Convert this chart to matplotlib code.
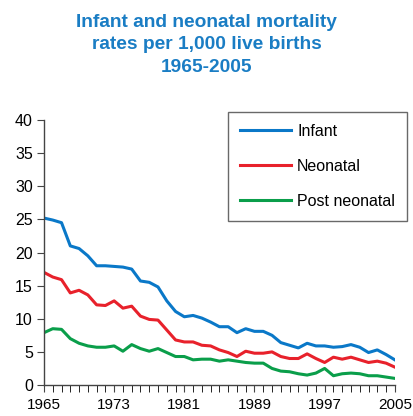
import matplotlib
matplotlib.use("Agg")
from matplotlib import pyplot as plt
import numpy as np

plt.rcParams['font.family'] = ['Liberation Sans', 'DejaVu Sans']

years = list(range(1965, 2006))
infant = [25.2, 24.9, 24.5, 21.0, 20.6, 19.5, 18.0, 18.0, 17.9, 17.8,
          17.5, 15.7, 15.5, 14.8, 12.7, 11.1, 10.3, 10.5, 10.1, 9.5,
          8.8, 8.8, 7.9, 8.5, 8.1, 8.1, 7.5, 6.4, 6.0, 5.6,
          6.3, 5.9, 5.9, 5.7, 5.8, 6.1, 5.7, 4.9, 5.3, 4.6, 3.8]
neonatal = [17.0, 16.3, 15.9, 13.9, 14.3, 13.6, 12.1, 12.0, 12.7, 11.6,
            11.9, 10.4, 9.9, 9.8, 8.3, 6.8, 6.5, 6.5, 6.0, 5.9,
            5.3, 4.9, 4.3, 5.1, 4.8, 4.8, 5.0, 4.3, 4.0, 4.0,
            4.7, 4.0, 3.4, 4.2, 3.9, 4.2, 3.8, 3.4, 3.6, 3.3, 2.7]
post_neonatal = [7.9, 8.5, 8.4, 7.0, 6.3, 5.9, 5.7, 5.7, 5.9, 5.1,
                 6.1, 5.5, 5.1, 5.5, 4.9, 4.3, 4.3, 3.8, 3.9, 3.9,
                 3.6, 3.8, 3.6, 3.4, 3.3, 3.3, 2.5, 2.1, 2.0, 1.7,
                 1.5, 1.8, 2.5, 1.4, 1.7, 1.8, 1.7, 1.4, 1.4, 1.2, 1.0]
labels = ['Infant', 'Neonatal', 'Post neonatal']
colors = ['#0a78c8', '#e8212b', '#0a9e4a']

fig = plt.figure(figsize=(4.13, 4.16), dpi=100)
ax = fig.add_axes([0.1065, 0.0745, 0.8495, 0.637])

for vals, lab, c in zip([infant, neonatal, post_neonatal], labels, colors):
    ax.plot(years, vals, color=c, lw=2.2, label=lab)

ax.set_xlim(1965, 2005)
ax.set_ylim(0, 40)
ax.set_yticks(np.arange(0, 41, 5))
ax.set_xticks(range(1965, 2006, 8))
ax.set_xticks(range(1965, 2006), minor=True)
ax.tick_params(axis='both', labelsize=11.5, color='#444444', direction='out')
ax.tick_params(axis='x', which='both', length=5, pad=4, labelsize=11)
ax.tick_params(axis='y', length=5, pad=3)
for s in ['top', 'right']:
    ax.spines[s].set_visible(False)
for s in ['left', 'bottom']:
    ax.spines[s].set_color('#444444')
    ax.spines[s].set_linewidth(1.0)

leg = ax.legend(loc='upper right', bbox_to_anchor=(407 / 413, 1 - 112 / 416),
                bbox_transform=fig.transFigure, borderaxespad=0, fontsize=11.5,
                frameon=True, fancybox=False, edgecolor='#444444', handlelength=3.2,
                labelspacing=1.25, borderpad=0.75, handletextpad=0.4)
leg.get_frame().set_linewidth(1.0)

fig.text(0.5, 1 - 14 / 416, 'Infant and neonatal mortality\nrates per 1,000 live births\n1965-2005',
         ha='center', va='top', fontsize=13.8, fontweight='bold', color='#1a7dc4',
         linespacing=1.42)

fig.savefig('out.png', dpi=100)
